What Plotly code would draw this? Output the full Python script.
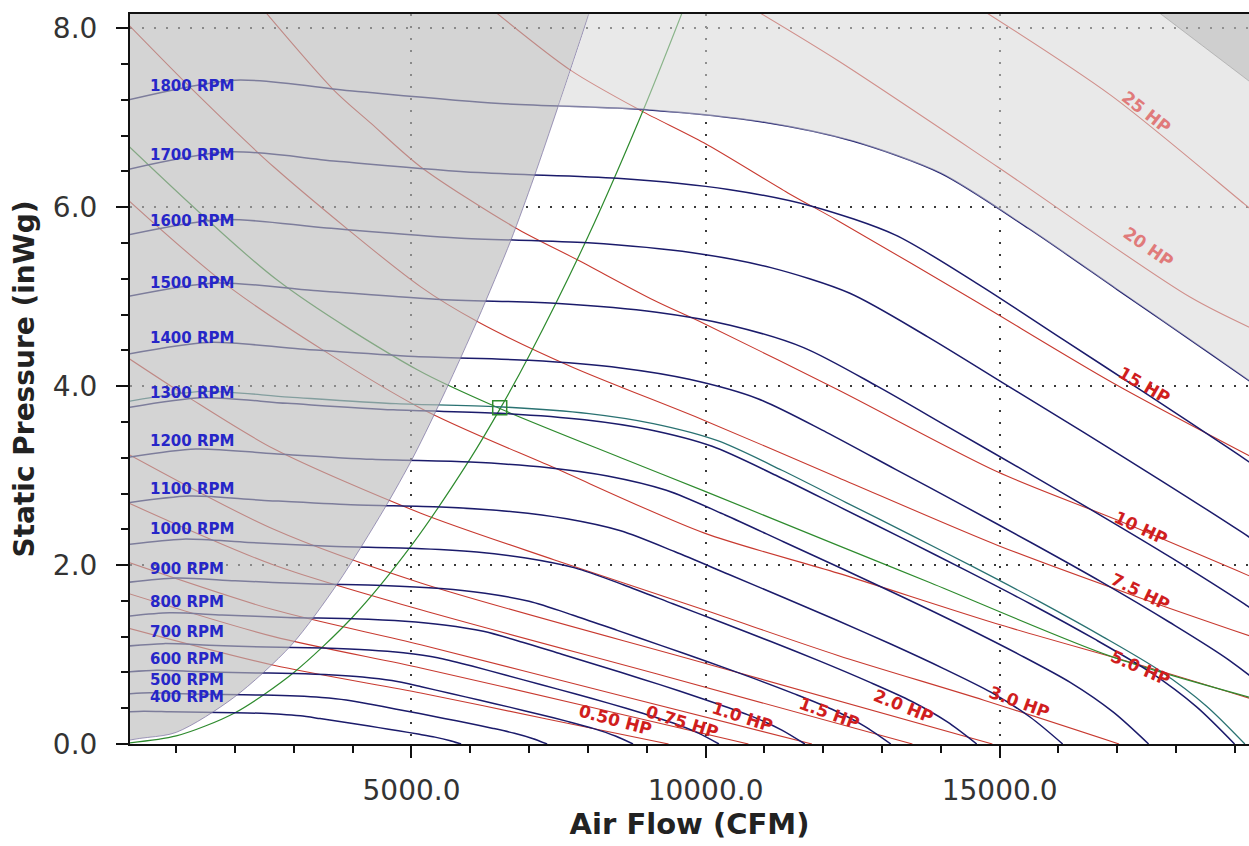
import plotly.graph_objects as go

# ---------------- axis ranges ----------------
X_RANGE = [214, 19240]
Y_RANGE = [0, 8.16]

# ---------------- fan curves (CFM, inWg) ----------------
RPM_LABELS = [400, 500, 600, 700, 800, 900, 1000, 1100, 1200, 1300, 1400, 1500, 1600, 1700, 1800]
LABEL_P = [0.53, 0.72, 0.95, 1.25, 1.59, 1.96, 2.40, 2.85, 3.39, 3.92, 4.54, 5.15, 5.85, 6.58, 7.36]

Q_400 = [0, 444, 889, 1444, 2000, 2444, 2778, 3111, 3444, 3778, 4111, 4444, 4778, 5111, 5400, 5644, 5844]
P_400 = [0.354, 0.366, 0.360, 0.354, 0.350, 0.343, 0.333, 0.315, 0.284, 0.251, 0.217, 0.183, 0.148, 0.111, 0.077, 0.040, 0]
Q_500 = [0, 556, 1111, 1806, 2500, 3056, 3472, 3889, 4306, 4722, 5139, 5556, 5972, 6389, 6750, 7056, 7306]
P_500 = [0.553, 0.573, 0.563, 0.552, 0.547, 0.536, 0.520, 0.492, 0.444, 0.392, 0.340, 0.286, 0.231, 0.174, 0.120, 0.062, 0]
Q_600 = [0, 667, 1333, 2167, 3000, 3667, 4167, 4667, 5167, 5667, 6167, 6667, 7167, 7667, 8100, 8467, 8767]
P_600 = [0.797, 0.824, 0.811, 0.796, 0.788, 0.772, 0.749, 0.709, 0.640, 0.564, 0.489, 0.412, 0.333, 0.250, 0.172, 0.089, 0]
Q_700 = [0, 778, 1556, 2528, 3500, 4278, 4861, 5444, 6028, 6611, 7194, 7778, 8361, 8944, 9450, 9878, 10228]
P_700 = [1.084, 1.122, 1.104, 1.083, 1.072, 1.051, 1.019, 0.965, 0.871, 0.768, 0.665, 0.561, 0.454, 0.340, 0.234, 0.121, 0]
Q_800 = [0, 889, 1778, 2889, 4000, 4889, 5556, 6222, 6889, 7556, 8222, 8889, 9556, 10222, 10800, 11289, 11689]
P_800 = [1.416, 1.466, 1.442, 1.414, 1.400, 1.373, 1.331, 1.260, 1.138, 1.003, 0.869, 0.733, 0.593, 0.444, 0.306, 0.158, 0]
Q_900 = [0, 1000, 2000, 3250, 4500, 5500, 6250, 7000, 7750, 8500, 9250, 10000, 10750, 11500, 12150, 12700, 13150]
P_900 = [1.793, 1.855, 1.825, 1.790, 1.773, 1.738, 1.685, 1.595, 1.440, 1.270, 1.100, 0.928, 0.750, 0.563, 0.388, 0.200, 0]
Q_1000 = [0, 1111, 2222, 3611, 5000, 6111, 6944, 7778, 8611, 9444, 10278, 11111, 11944, 12778, 13500, 14111, 14611]
P_1000 = [2.213, 2.290, 2.253, 2.210, 2.188, 2.145, 2.080, 1.969, 1.778, 1.568, 1.358, 1.145, 0.926, 0.694, 0.478, 0.247, 0]
Q_1100 = [0, 1222, 2444, 3972, 5500, 6722, 7639, 8556, 9472, 10389, 11306, 12222, 13139, 14056, 14850, 15522, 16072]
P_1100 = [2.678, 2.771, 2.726, 2.674, 2.648, 2.596, 2.517, 2.383, 2.151, 1.897, 1.643, 1.386, 1.120, 0.840, 0.579, 0.299, 0]
Q_1200 = [0, 1333, 2667, 4333, 6000, 7333, 8333, 9333, 10333, 11333, 12333, 13333, 14333, 15333, 16200, 16933, 17533]
P_1200 = [3.187, 3.298, 3.244, 3.182, 3.151, 3.089, 2.996, 2.836, 2.560, 2.258, 1.956, 1.649, 1.333, 1.000, 0.689, 0.356, 0]
Q_1300 = [0, 1444, 2889, 4694, 6500, 7944, 9028, 10111, 11194, 12278, 13361, 14444, 15528, 16611, 17550, 18344, 18994]
P_1300 = [3.740, 3.870, 3.808, 3.735, 3.698, 3.625, 3.516, 3.328, 3.004, 2.650, 2.295, 1.935, 1.565, 1.174, 0.808, 0.417, 0]
Q_1400 = [0, 1556, 3111, 5056, 7000, 8556, 9722, 10889, 12056, 13222, 14389, 15556, 16722, 17889, 18900, 19756, 20456]
P_1400 = [4.337, 4.489, 4.416, 4.331, 4.289, 4.204, 4.077, 3.860, 3.484, 3.073, 2.662, 2.244, 1.815, 1.361, 0.938, 0.484, 0]
Q_1500 = [0, 1667, 3333, 5417, 7500, 9167, 10417, 11667, 12917, 14167, 15417, 16667, 17917, 19167, 20250, 21167, 21917]
P_1500 = [4.979, 5.153, 5.069, 4.972, 4.924, 4.826, 4.681, 4.431, 4.000, 3.528, 3.056, 2.576, 2.083, 1.563, 1.076, 0.556, 0]
Q_1600 = [0, 1778, 3556, 5778, 8000, 9778, 11111, 12444, 13778, 15111, 16444, 17778, 19111, 20444, 21600, 22578, 23378]
P_1600 = [5.665, 5.863, 5.768, 5.657, 5.602, 5.491, 5.325, 5.041, 4.551, 4.014, 3.477, 2.931, 2.370, 1.778, 1.225, 0.632, 0]
Q_1700 = [0, 1889, 3778, 6139, 8500, 10389, 11806, 13222, 14639, 16056, 17472, 18889, 20306, 21722, 22950, 23989, 24839]
P_1700 = [6.396, 6.619, 6.511, 6.387, 6.324, 6.199, 6.012, 5.691, 5.138, 4.531, 3.925, 3.309, 2.676, 2.007, 1.383, 0.714, 0]
Q_1800 = [0, 2000, 4000, 6500, 9000, 11000, 12500, 14000, 15500, 17000, 18500, 20000, 21500, 23000, 24300, 25400, 26300]
P_1800 = [7.17, 7.42, 7.30, 7.16, 7.09, 6.95, 6.74, 6.38, 5.76, 5.08, 4.40, 3.71, 3.00, 2.25, 1.55, 0.80, 0]

RPM_Q = [Q_400, Q_500, Q_600, Q_700, Q_800, Q_900, Q_1000, Q_1100, Q_1200,
         Q_1300, Q_1400, Q_1500, Q_1600, Q_1700, Q_1800]
RPM_P = [P_400, P_500, P_600, P_700, P_800, P_900, P_1000, P_1100, P_1200,
         P_1300, P_1400, P_1500, P_1600, P_1700, P_1800]

# operating fan curve (selected speed)
OP_Q = [0, 1458, 2916, 4738, 6560, 8018, 9111, 10205, 11298, 12391, 13485, 14578, 15671, 16765, 17712, 18514, 19170]
OP_P = [3.809, 3.942, 3.878, 3.804, 3.767, 3.693, 3.581, 3.390, 3.060, 2.699, 2.338, 1.971, 1.594, 1.195, 0.824, 0.425, 0]
OP_POINT_Q = [6500]
OP_POINT_P = [3.76]

# system curve
SYS_Q = [0, 1000, 2000, 3000, 4000, 5000, 6000, 6500, 7000, 8000, 9000, 9700]
SYS_P = [0, 0.09, 0.35, 0.80, 1.42, 2.22, 3.19, 3.74, 4.34, 5.67, 7.18, 8.34]

# operating horsepower line (green)
OPHP_Q = [100, 2728, 5107, 6502, 8560, 9971, 12250, 13832, 16893, 19600]
OPHP_P = [6.74, 5.18, 4.18, 3.75, 3.20, 2.83, 2.22, 1.80, 0.98, 0.46]

# ---------------- horsepower lines ----------------
HP_NAMES = ["0.50 HP", "0.75 HP", "1.0 HP", "1.5 HP", "2.0 HP", "3.0 HP",
            "5.0 HP", "7.5 HP", "10 HP", "15 HP", "20 HP", "25 HP"]
HP050_Q = [100, 2658, 5158, 7300, 9371]
HP050_P = [1.31, 0.88, 0.57, 0.28, 0]
HP075_Q = [100, 2658, 5158, 8000, 10729]
HP075_P = [1.70, 1.20, 0.85, 0.42, 0]
HP100_Q = [100, 2658, 5158, 8500, 11808]
HP100_P = [2.05, 1.50, 1.11, 0.55, 0]
HP150_Q = [100, 2658, 5158, 9300, 13517]
HP150_P = [2.72, 2.00, 1.50, 0.76, 0]
HP200_Q = [100, 2658, 5158, 10000, 14877]
HP200_P = [3.27, 2.40, 1.80, 0.90, 0]
HP300_Q = [100, 1196, 2658, 5158, 7420, 9971, 12250, 14733, 17030]
HP300_P = [4.35, 3.88, 3.30, 2.58, 2.06, 1.50, 0.99, 0.49, 0]
HP500_Q = [100, 1980, 5107, 7420, 9971, 12250, 15022, 17403, 19600]
HP500_P = [6.13, 5.07, 3.77, 3.09, 2.36, 1.91, 1.33, 0.88, 0.44]
HP750_Q = [100, 1299, 2660, 5158, 6127, 7709, 9971, 12250, 14971, 17403, 19600]
HP750_P = [8.10, 7.30, 6.45, 5.11, 4.72, 4.22, 3.62, 2.98, 2.22, 1.63, 1.13]
HP1000_Q = [2300, 3679, 4308, 5158, 6740, 7828, 9121, 9971, 12250, 14971, 17012, 19600]
HP1000_P = [8.35, 7.31, 6.94, 6.45, 5.78, 5.41, 4.96, 4.70, 3.96, 3.04, 2.50, 1.78]
HP1500_Q = [6300, 7709, 8900, 9971, 11400, 12250, 14563, 16944, 19600]
HP1500_P = [8.25, 7.53, 7.08, 6.72, 6.16, 5.85, 4.96, 4.03, 3.10]
HP2000_Q = [10650, 12248, 14969, 18252, 19600]
HP2000_P = [8.28, 7.64, 6.45, 4.99, 4.55]
HP2500_Q = [14500, 16893, 19155, 19600]
HP2500_P = [8.29, 7.25, 6.04, 5.80]

HP_Q = [HP050_Q, HP075_Q, HP100_Q, HP150_Q, HP200_Q, HP300_Q,
        HP500_Q, HP750_Q, HP1000_Q, HP1500_Q, HP2000_Q, HP2500_Q]
HP_P = [HP050_P, HP075_P, HP100_P, HP150_P, HP200_P, HP300_P,
        HP500_P, HP750_P, HP1000_P, HP1500_P, HP2000_P, HP2500_P]

# label positions along the hp lines (CFM, inWg, angle)
HP_LABEL_Q = [8467, 9616, 10636, 12099, 13357, 15330, 17403, 17403, 17403, 17454, 17522, 17488]
HP_LABEL_P = [0.27, 0.25, 0.30, 0.35, 0.42, 0.47, 0.85, 1.70, 2.42, 4.01, 5.55, 7.06]
HP_LABEL_ANGLE = [15, 17, 18, 20, 22, 20, 24, 26, 25, 30, 35, 38]

# ---------------- shaded regions ----------------
BOUND_Q = [0, 1000, 1980, 2950, 3750, 4530, 5040, 5580, 6130, 6690, 7080, 7490, 8000, 8200]
BOUND_P = [0, 0.13, 0.52, 1.10, 1.80, 2.62, 3.22, 3.95, 4.75, 5.63, 6.33, 7.12, 8.13, 8.55]
CORNER_Q = [17400, 19700]
CORNER_P = [8.33, 7.18]

NAVY = "#1b1b6b"
RED = "#c83a30"
GREEN = "#2e8b2e"
TEAL = "#2a7272"
FONT = "DejaVu Sans"

fig = go.Figure()

def line(x, y, color, width=1.0, shape="spline", smoothing=0.8):
    fig.add_trace(go.Scatter(x=x, y=y, mode="lines",
                             line=dict(color=color, width=width, shape=shape, smoothing=smoothing),
                             hoverinfo="skip", showlegend=False))

for q, p in zip(HP_Q, HP_P):
    line(q, p, RED, 1.1)

line(SYS_Q, SYS_P, GREEN, 1.2)
line(OPHP_Q, OPHP_P, GREEN, 1.2)

for q, p in zip(RPM_Q, RPM_P):
    line(q, p, NAVY, 1.5, smoothing=0.8)

line(OP_Q, OP_P, TEAL, 1.3, smoothing=0.8)

fig.add_trace(go.Scatter(x=OP_POINT_Q, y=OP_POINT_P, mode="markers",
                         marker=dict(symbol="square-open", size=14, color=GREEN,
                                     line=dict(width=1.5, color=GREEN)),
                         hoverinfo="skip", showlegend=False))

# dark unstable region (left)
dark_x = [-2000] + BOUND_Q + [-2000]
dark_y = [-1] + BOUND_P + [9]
fig.add_trace(go.Scatter(x=dark_x, y=dark_y, mode="lines", fill="toself",
                         fillcolor="rgba(185,185,185,0.62)",
                         line=dict(color="rgba(120,110,160,0.7)", width=1, shape="spline", smoothing=0.8),
                         hoverinfo="skip", showlegend=False))

# light region above top speed curve
upper = [(q, p) for q, p in zip(Q_1800, P_1800) if q >= 9000 and p >= 3]
bnd = [(q, p) for q, p in zip(BOUND_Q, BOUND_P) if p >= 7.1][::-1]
light_x = [q for q, _ in upper] + [upper[-1][0], bnd[0][0]] + [q for q, _ in bnd][1:]
light_y = [p for _, p in upper] + [9, 9] + [p for _, p in bnd][1:]
fig.add_trace(go.Scatter(x=light_x, y=light_y, mode="lines", fill="toself",
                         fillcolor="rgba(215,215,215,0.55)",
                         line=dict(width=0, shape="spline", smoothing=0.6),
                         hoverinfo="skip", showlegend=False))

# darker top-right corner
corner_x = CORNER_Q + [CORNER_Q[1], CORNER_Q[0]]
corner_y = CORNER_P + [9, 9]
fig.add_trace(go.Scatter(x=corner_x, y=corner_y, mode="lines", fill="toself",
                         fillcolor="rgba(150,150,150,0.30)",
                         line=dict(width=0.8, color="rgba(140,140,140,0.6)"),
                         hoverinfo="skip", showlegend=False))

# RPM labels
for rpm, yp in zip(RPM_LABELS, LABEL_P):
    fig.add_annotation(x=515, y=yp, text=f"{rpm} RPM", showarrow=False,
                       xanchor="left", yanchor="middle",
                       font=dict(family=FONT, size=15, color="#2626c8", weight="bold"))

# HP labels
for name, qx, py, ang in zip(HP_NAMES, HP_LABEL_Q, HP_LABEL_P, HP_LABEL_ANGLE):
    col = "#e07a7a" if name in ("20 HP", "25 HP") else "#d01e1e"
    fig.add_annotation(x=qx, y=py, text=name, showarrow=False, textangle=ang,
                       xanchor="center", yanchor="middle",
                       font=dict(family=FONT, size=17, color=col, weight="bold"))

axis_common = dict(
    showline=True, linecolor="#111", linewidth=2, mirror=True,
    ticks="outside", ticklen=12, tickwidth=1.5, tickcolor="#111",
    showgrid=True, gridcolor="#3a3a3a", gridwidth=1.5, griddash="2px,10px",
    zeroline=False, tickformat=".1f",
    tickfont=dict(family=FONT, size=28, color="#333"),
)

fig.update_xaxes(range=X_RANGE, tick0=0, dtick=5000,
                 minor=dict(dtick=1000, ticks="outside", ticklen=7, tickwidth=1.5,
                            tickcolor="#111", showgrid=False),
                 ticklabelstandoff=8,
                 title=dict(text="Air Flow (CFM)", standoff=6,
                            font=dict(family=FONT, size=29, color="#222", weight="bold")),
                 **axis_common)
fig.update_yaxes(range=Y_RANGE, tick0=0, dtick=2,
                 minor=dict(dtick=0.4, ticks="outside", ticklen=7, tickwidth=1.5,
                            tickcolor="#111", showgrid=False),
                 ticklabelstandoff=13,
                 title=dict(text="Static Pressure (inWg)", standoff=10,
                            font=dict(family=FONT, size=28, color="#222", weight="bold")),
                 **axis_common)

fig.update_layout(width=1249, height=846,
                  margin=dict(l=130, r=0, t=14, b=102, autoexpand=False),
                  plot_bgcolor="white", paper_bgcolor="white", showlegend=False)

fig.write_html("out.html", config={"displayModeBar": False},
               post_script="document.body.style.margin='0';document.body.style.overflow='hidden';")
